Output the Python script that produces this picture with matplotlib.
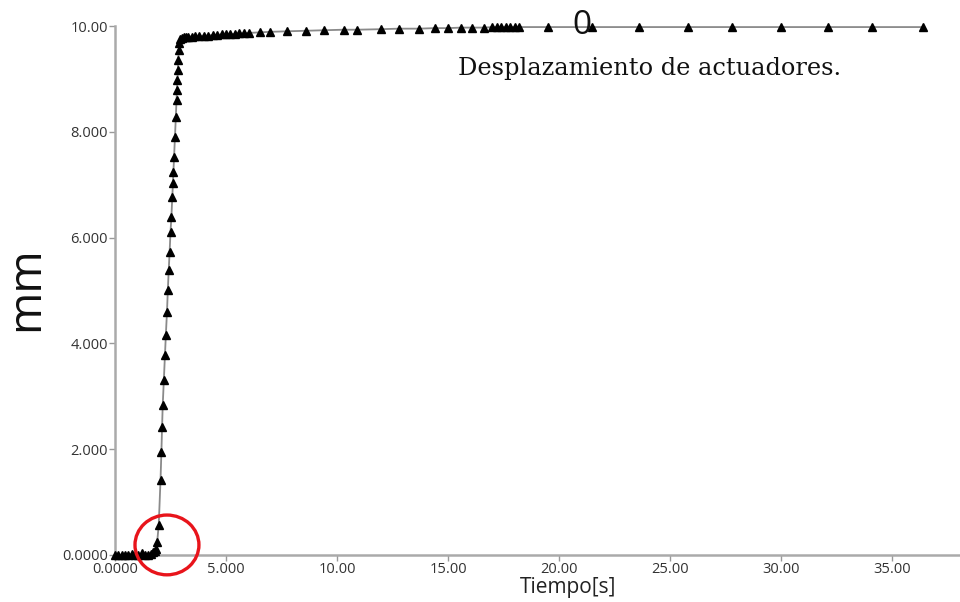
import matplotlib.pyplot as plt
from matplotlib.patches import Ellipse

# time [s] and displacement [mm]
tiempo = [0.0, 0.15, 0.3, 0.45, 0.6, 0.75, 0.9, 1.05, 1.2, 1.35, 1.5, 1.6, 1.7, 1.8, 1.85, 1.9,
          1.97, 2.05, 2.09, 2.12, 2.15, 2.20, 2.25, 2.29, 2.34, 2.38, 2.42, 2.46, 2.50, 2.54,
          2.58, 2.61, 2.63, 2.66, 2.70, 2.74, 2.77, 2.79, 2.81, 2.83, 2.85, 2.87, 2.89, 2.92,
          3.0, 3.1, 3.2, 3.3, 3.45, 3.6, 3.8, 4.0, 4.2, 4.4, 4.6, 4.8, 5.0, 5.2, 5.4, 5.6,
          5.8, 6.05, 6.53, 6.98, 7.75, 8.60, 9.41, 10.3, 10.9, 12.0, 12.8, 13.7, 14.4, 15.0,
          15.6, 16.1, 16.6, 17.0, 17.2, 17.4, 17.6, 17.8, 18.0, 18.2, 19.5, 21.5, 23.6, 25.8,
          27.8, 30.0, 32.1, 34.1, 36.4]
desplazamiento = [0.0, 0.0, 0.0, 0.0, 0.0, 0.02, 0.0, 0.0, 0.03, 0.0, 0.0, 0.02, 0.05, 0.08, 0.12, 0.25,
                  0.57, 1.42, 1.95, 2.42, 2.84, 3.31, 3.78, 4.16, 4.59, 5.01, 5.39, 5.73, 6.11, 6.39,
                  6.77, 7.03, 7.24, 7.52, 7.90, 8.28, 8.60, 8.79, 8.98, 9.17, 9.36, 9.55, 9.68, 9.76,
                  9.78, 9.79, 9.79, 9.80, 9.80, 9.81, 9.81, 9.82, 9.82, 9.83, 9.83, 9.84, 9.84, 9.85, 9.85, 9.86,
                  9.86, 9.87, 9.88, 9.89, 9.90, 9.91, 9.92, 9.93, 9.93, 9.94, 9.95, 9.95, 9.96, 9.96,
                  9.97, 9.97, 9.97, 9.98, 9.98, 9.98, 9.98, 9.98, 9.98, 9.98, 9.98, 9.98, 9.98, 9.98,
                  9.98, 9.98, 9.98, 9.98, 9.98]

xticks = [0, 5, 10, 15, 20, 25, 30, 35]
xticklabels = ["0.0000", "5.000", "10.00", "15.00", "20.00", "25.00", "30.00", "35.00"]
yticks = [0, 2, 4, 6, 8, 10]
yticklabels = ["0.0000", "2.000", "4.000", "6.000", "8.000", "10.00"]

fig = plt.figure(figsize=(9.6, 6.02), dpi=100)
ax = fig.add_axes([0.1198, 0.0781, 0.8802, 0.8787])

ax.plot(tiempo, desplazamiento, color="#8a8a8a", lw=1.3, marker="^", ms=5.5,
        mfc="black", mec="black", zorder=3, clip_on=False)

ax.set_xlim(0, 38.06)
ax.set_ylim(0, 10)
for s in ("top", "right"):
    ax.spines[s].set_visible(False)
for s in ("left", "bottom"):
    ax.spines[s].set_color("#aaaaaa")
    ax.spines[s].set_linewidth(1.8)

ax.set_xticks(xticks)
ax.set_xticklabels(xticklabels, fontfamily="Open Sans", fontsize=10.5, color="#333333")
ax.set_yticks(yticks)
ax.set_yticklabels(yticklabels, fontfamily="Open Sans", fontsize=10.5, color="#333333")
ax.tick_params(axis="both", length=4, width=1, color="#999999", pad=1)

fig.text(0.592, 0.024, "Tiempo[s]", fontfamily="Open Sans", fontsize=15,
         ha="center", va="center", color="#222222")
fig.text(0.027, 0.521, "mm", fontfamily="Open Sans", fontsize=33, rotation=90,
         ha="center", va="center", color="#111111")

fig.text(0.677, 0.887, "Desplazamiento de actuadores.", fontfamily="DejaVu Serif",
         fontsize=17.3, ha="center", va="center", color="#111111")
fig.text(0.606, 0.958, "0", fontfamily="Open Sans", fontsize=24,
         ha="center", va="center", color="#111111")

# red circle marking the start of the movement
ax.add_patch(Ellipse((2.34, 0.19), 2.88, 1.13, fill=False, ec="#e8141b",
                     lw=2.4, clip_on=False, zorder=4))

fig.savefig("out.png", dpi=100)
